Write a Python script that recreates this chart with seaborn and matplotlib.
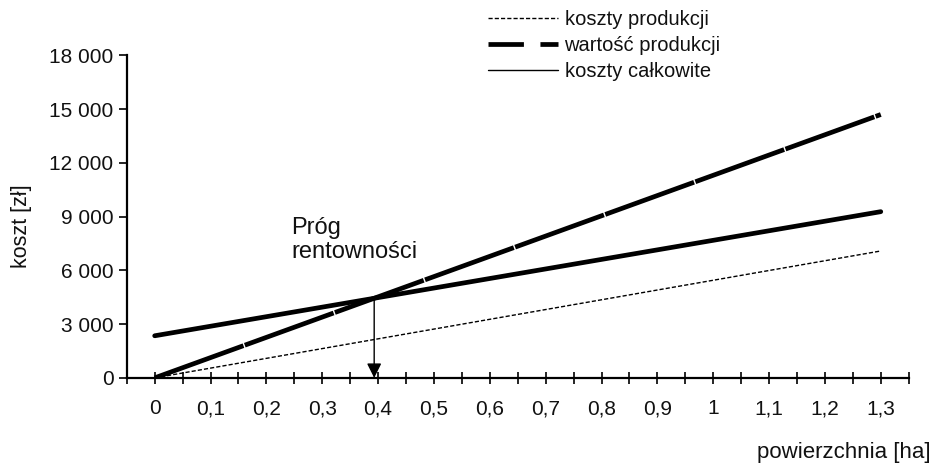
import numpy as np
import pandas as pd
import matplotlib
matplotlib.use("Agg")
import matplotlib.pyplot as plt
from matplotlib.lines import Line2D
import seaborn as sns

# Data
area = [0, 0.1, 0.2, 0.3, 0.4, 0.5, 0.6, 0.7, 0.8, 0.9, 1.0, 1.1, 1.2, 1.3]
production_cost = [0, 545, 1090, 1635, 2180, 2725, 3270, 3815, 4360, 4905, 5450, 5995, 6540, 7085]
production_value = [0, 1131, 2262, 3393, 4524, 5655, 6786, 7917, 9048, 10179, 11310, 12441, 13572, 14703]
total_cost = [2350, 2883, 3416, 3949, 4482, 5015, 5548, 6081, 6614, 7147, 7680, 8213, 8746, 9279]
tick_labels = ["0", "0,1", "0,2", "0,3", "0,4", "0,5", "0,6", "0,7", "0,8", "0,9", "1", "1,1", "1,2", "1,3"]
y_ticks = [0, 3000, 6000, 9000, 12000, 15000, 18000]
y_tick_labels = ["0", "3 000", "6 000", "9 000", "12 000", "15 000", "18 000"]
break_even_x = 0.393
break_even_y = 4460

df = pd.DataFrame({"area": area, "prod": production_cost,
                   "value": production_value, "total": total_cost})

sns.set_style("ticks")
plt.rcParams["font.family"] = ["Liberation Sans", "DejaVu Sans"]
plt.rcParams["text.color"] = "#111111"
plt.rcParams["axes.labelcolor"] = "#111111"
plt.rcParams["xtick.labelcolor"] = "#111111"
plt.rcParams["ytick.labelcolor"] = "#111111"

fig = plt.figure(figsize=(9.32, 4.70), dpi=100)
ax = fig.add_axes([0.136, 0.196, 0.839, 0.686])

sns.lineplot(data=df, x="area", y="prod", ax=ax, color="black", lw=1.0,
             linestyle=(0, (3, 1.5)))
sns.lineplot(data=df, x="area", y="value", ax=ax, color="black", lw=3.4,
             linestyle=(0, (20, 0.3)))
sns.lineplot(data=df, x="area", y="total", ax=ax, color="black", lw=3.4)

# break-even arrow
ax.annotate("", xy=(break_even_x, 0), xytext=(break_even_x, break_even_y),
            arrowprops=dict(arrowstyle="-|>", color="black", lw=1.0,
                            mutation_scale=22, shrinkA=0, shrinkB=0))
ax.text(0.245, 7700, "Próg\nrentowności", fontsize=17, ha="left", va="center",
        linespacing=1.1)

ax.set_xlim(-0.05, 1.35)
ax.set_ylim(0, 18000)
ax.set_xticks(area)
ax.set_xticklabels(tick_labels, fontsize=15)
ax.set_xticks(np.arange(-0.05, 1.36, 0.1), minor=True)
ax.set_yticks(y_ticks)
ax.set_yticklabels(y_tick_labels, fontsize=15)
ax.tick_params(axis="x", which="both", direction="inout", length=9, width=1.2,
               pad=11, color="black")
ax.tick_params(axis="y", direction="out", length=6, width=1.2, color="black")
for s in ["top", "right"]:
    ax.spines[s].set_visible(False)
for s in ["left", "bottom"]:
    ax.spines[s].set_linewidth(1.6)
    ax.spines[s].set_color("black")

ax.set_ylabel("koszt [zł]", fontsize=15.5)
ax.yaxis.set_label_coords(-0.121, 0.47)
ax.set_xlabel("")
fig.text(0.998, 0.038, "powierzchnia [ha]", fontsize=16, ha="right", va="center")

handles = [
    Line2D([], [], color="black", lw=1.0, linestyle=(0, (3, 1.5))),
    Line2D([], [], color="black", lw=3.4, linestyle=(0, (7.5, 3.5))),
    Line2D([], [], color="black", lw=1.0),
]
fig.legend(handles, ["koszty produkcji", "wartość produkcji", "koszty całkowite"],
           loc="upper left", bbox_to_anchor=(488 / 932, 1 - 10 / 470), frameon=False,
           fontsize=14.5, handlelength=3.5, handletextpad=0.3, labelspacing=0.35,
           borderaxespad=0, borderpad=0)

fig.savefig("out.png", dpi=100)
